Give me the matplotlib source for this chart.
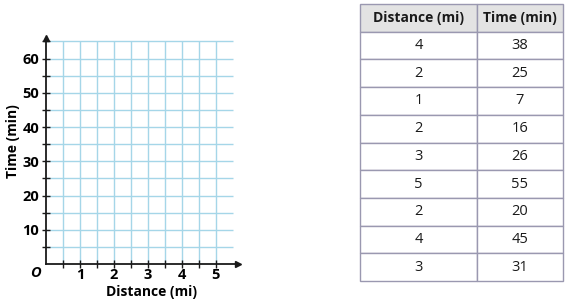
import matplotlib
matplotlib.use("Agg")
import matplotlib.pyplot as plt
import numpy as np

# Data
distance = [4, 2, 1, 2, 3, 5, 2, 4, 3]
time_min = [38, 25, 7, 16, 26, 55, 20, 45, 31]
col_labels = ["Distance (mi)", "Time (min)"]
x_ticks = [1, 2, 3, 4, 5]
y_ticks = [10, 20, 30, 40, 50, 60]

plt.rcParams['font.family'] = ['Open Sans', 'DejaVu Sans']

fig = plt.figure(figsize=(5.74, 3.06), dpi=100)
ax = fig.add_axes([46/574, 42/306, 192/574, 226/306])
ax.set_xlim(0, 5.65)
ax.set_ylim(0, 66)

grid_c = '#a5d6e8'
xg = np.arange(0.5, 5.01, 0.5)
yg = np.arange(5, 65.1, 5)
ax.vlines(xg, 0, 65, color=grid_c, lw=1.0, zorder=1)
ax.hlines(yg, 0, 5.5, color=grid_c, lw=1.0, zorder=1)

for s in ['top', 'right']:
    ax.spines[s].set_visible(False)
for s in ['left', 'bottom']:
    ax.spines[s].set_linewidth(1.3)
    ax.spines[s].set_color('#1a1a1a')

ax.plot(1, 0, '>', color='#1a1a1a', ms=5, transform=ax.transAxes, clip_on=False)
ax.plot(0, 1, '^', color='#1a1a1a', ms=5, transform=ax.transAxes, clip_on=False)

ax.set_xticks(x_ticks)
ax.set_yticks(y_ticks)
ax.set_xticks(xg, minor=True)
ax.set_yticks(yg, minor=True)
ax.tick_params(which='both', direction='inout', length=6, width=1.0, color='#1a1a1a')
ax.tick_params(axis='x', pad=0)
ax.tick_params(axis='y', pad=2)
for lbl in ax.get_xticklabels() + ax.get_yticklabels():
    lbl.set_fontweight('bold')
    lbl.set_fontsize(10.5)

ax.set_xlabel("Distance (mi)", fontsize=10, fontweight='bold')
ax.set_ylabel("Time (min)", fontsize=10, fontweight='bold')
ax.xaxis.set_label_coords(0.552, -0.092)
ax.yaxis.set_label_coords(-0.135, 0.544)
ax.text(-0.057, -0.04, "O", transform=ax.transAxes, fontsize=10.5, fontweight='bold',
        fontstyle='italic', ha='center', va='center')

# Table
tax = fig.add_axes([360/574, 25/306, 203/574, 277/306])
tax.axis('off')
cell_text = [[str(d), str(t)] for d, t in zip(distance, time_min)]
tbl = tax.table(cellText=cell_text, colLabels=col_labels, bbox=[0, 0, 1, 1],
                colWidths=[117, 86], cellLoc='center')
tbl.auto_set_font_size(False)
edge = '#9a98b0'
for (r, c), cell in tbl.get_celld().items():
    cell.set_edgecolor(edge)
    cell.set_linewidth(1.0)
    cell.get_text().set_fontsize(10.5)
    cell.get_text().set_color('#1a1a1a')
    if r == 0:
        cell.set_facecolor('#e3e3e3')
        cell.get_text().set_fontweight('bold')
        cell.get_text().set_fontsize(10)

fig.savefig("out.png", dpi=100)
